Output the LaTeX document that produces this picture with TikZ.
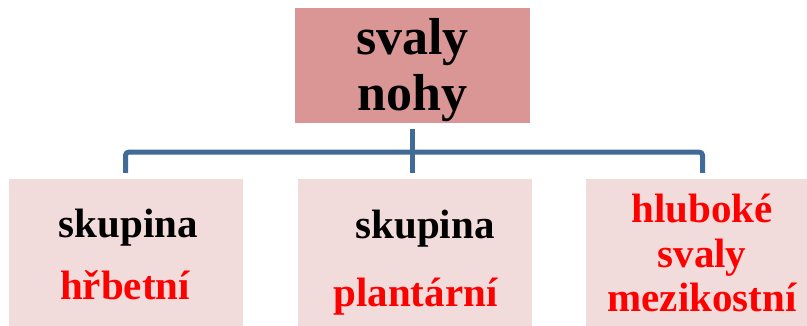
\documentclass[tikz,border=0pt]{standalone}
\usepackage{fontspec}
\setmainfont{Liberation Serif}[BoldFont={Liberation Serif Bold}]
\usepackage{tikz}
\usetikzlibrary{positioning}

\definecolor{topfill}{RGB}{217,150,148}
\definecolor{subfill}{RGB}{242,220,219}
\definecolor{linkblue}{RGB}{64,106,152}
\definecolor{redtext}{RGB}{255,0,0}

\tikzset{
  topbox/.style={rectangle, fill=topfill, inner sep=0pt, minimum width=235pt, minimum height=115pt},
  subbox/.style={rectangle, fill=subfill, inner sep=0pt, minimum width=234pt, minimum height=160pt},
  link/.style={draw=linkblue, line width=5pt, line join=round, rounded corners=3pt},
  boxtext/.style={align=center, inner sep=0pt}
}

\begin{document}
\begin{tikzpicture}[x=1pt, y=-1pt]

  \useasboundingbox (0,0) rectangle (807,325);
  \clip (0,0) rectangle (807,325);

  % boxes
  \node[topbox] (top) at (412.5, 65.5) {};
  \node[subbox] (left) at (125.5, 259) {};
  \node[subbox] (mid) at (414.5, 259) {};
  \node[subbox] (right) at (702.5, 259) {};

  % texts
  \node[boxtext, font=\fontsize{52}{56}\selectfont\bfseries] (topT) at (412.5, 70) {svaly\\nohy};
  \node[boxtext, font=\fontsize{41}{62}\selectfont\bfseries] (leftT) at (125, 254)
    {\hspace*{7pt}skupina\\\textcolor{redtext}{hřbetní}};
  \node[boxtext, font=\fontsize{41}{68}\selectfont\bfseries] (midT) at (415.5, 262.5)
    {\hspace*{19pt}skupina\\\textcolor{redtext}{plantární}};
  \node[boxtext, font=\fontsize{41}{44.5}\selectfont\bfseries, text=redtext] (rightT) at (702, 253)
    {hluboké\\svaly\\mezikostní};

  % connectors
  \coordinate (bus) at ([yshift=-29pt]top.south);
  \coordinate (midtop) at (top.south |- mid.north);
  \draw[link] ([yshift=-6pt]top.south) -- ([yshift=6pt]midtop);
  \draw[link] ([yshift=6pt]left.north) |- (bus) -| ([yshift=6pt]right.north);

\end{tikzpicture}
\end{document}
